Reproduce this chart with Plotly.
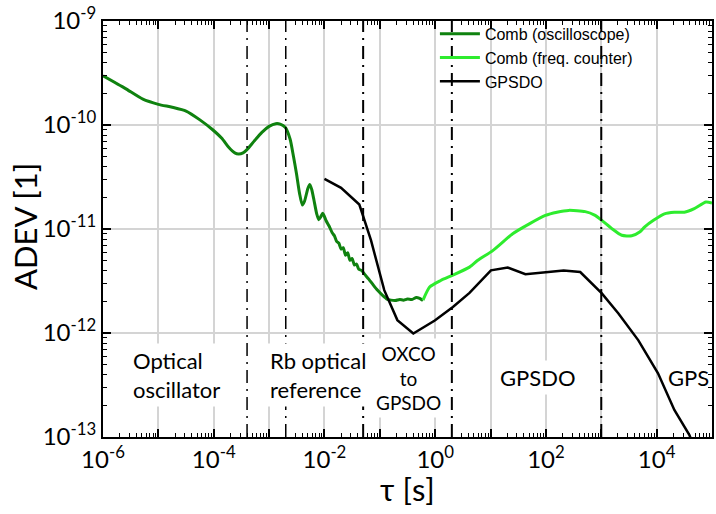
import plotly.graph_objects as go

# ---- data (tau in seconds, ADEV) ----
osc_tau = [1e-6, 10**-5.6, 10**-5.28, 10**-5.0, 10**-4.75, 10**-4.5, 10**-4.25, 10**-4.03,
           10**-3.85, 10**-3.73, 10**-3.62, 10**-3.55, 10**-3.47, 10**-3.40, 10**-3.27,
           10**-3.13, 10**-3.0, 10**-2.88, 10**-2.80, 10**-2.71, 10**-2.62, 10**-2.56,
           10**-2.505, 10**-2.45, 10**-2.40, 10**-2.36, 10**-2.30, 10**-2.265, 10**-2.23,
           10**-2.19, 10**-2.14, 10**-2.104, 10**-2.07, 10**-2.03, 10**-1.97, 10**-1.91,
           10**-1.86, 10**-1.82, 10**-1.78, 10**-1.74, 10**-1.70, 10**-1.66, 10**-1.62,
           10**-1.58, 10**-1.54, 10**-1.50, 10**-1.46, 10**-1.42, 10**-1.38, 10**-1.33,
           10**-1.28, 10**-1.20, 10**-1.12, 10**-1.04, 10**-0.95, 10**-0.87, 10**-0.80,
           10**-0.72, 10**-0.64, 10**-0.575, 10**-0.50, 10**-0.42, 10**-0.34, 10**-0.28,
           10**-0.22]
osc_adev = [2.97e-10, 2.25e-10, 1.77e-10, 1.58e-10, 1.48e-10, 1.36e-10, 1.12e-10, 9.1e-11,
            7.4e-11, 6.1e-11, 5.4e-11, 5.27e-11, 5.4e-11, 5.8e-11, 7.0e-11,
            8.5e-11, 9.7e-11, 1.03e-10, 1.02e-10, 9.5e-11, 7.3e-11, 5.0e-11,
            3.4e-11, 2.2e-11, 1.7e-11, 1.85e-11, 2.45e-11, 2.68e-11, 2.4e-11,
            1.9e-11, 1.4e-11, 1.23e-11, 1.3e-11, 1.42e-11, 1.2e-11, 1.05e-11,
            9.2e-12, 8.6e-12, 7.6e-12, 7.3e-12, 6.4e-12, 6.6e-12, 5.6e-12,
            5.9e-12, 5.0e-12, 5.2e-12, 4.5e-12, 4.6e-12, 4.1e-12, 4.0e-12,
            3.7e-12, 3.3e-12, 2.9e-12, 2.57e-12, 2.3e-12, 2.12e-12, 2.07e-12,
            2.05e-12, 2.1e-12, 2.07e-12, 2.12e-12, 2.1e-12, 2.2e-12, 2.15e-12,
            2.05e-12]

cnt_tau = [10**-0.22, 10**-0.10, 10**0.10, 10**0.32, 10**0.62, 10**0.77, 10**1.04, 10**1.40,
           10**1.70, 10**1.99, 10**2.20, 10**2.41, 10**2.71, 10**2.88, 10**3.01, 10**3.20,
           10**3.37, 10**3.55, 10**3.70, 10**3.785, 10**3.95, 10**4.14, 10**4.32, 10**4.50,
           10**4.68, 10**4.89, 10**5.0]
cnt_adev = [2.07e-12, 2.77e-12, 3.2e-12, 3.6e-12, 4.3e-12, 5.0e-12, 6.2e-12, 9.0e-12,
            1.12e-11, 1.35e-11, 1.45e-11, 1.51e-11, 1.47e-11, 1.36e-11, 1.21e-11, 1.0e-11,
            8.7e-12, 8.6e-12, 9.4e-12, 1.05e-11, 1.22e-11, 1.40e-11, 1.45e-11, 1.45e-11,
            1.57e-11, 1.82e-11, 1.78e-11]

gps_tau = [1e-2, 10**-1.70, 10**-1.37, 10**-1.16, 10**-0.92, 10**-0.683, 10**-0.395,
           10**-0.007, 10**0.32, 10**0.62, 10**1.007, 10**1.31, 10**1.63, 10**2.32,
           10**2.62, 10**3.01, 10**3.31, 10**3.67, 10**4.025, 10**4.32, 10**4.59, 10**4.64]
gps_adev = [3.03e-11, 2.49e-11, 1.72e-11, 7.8e-12, 2.58e-12, 1.33e-12, 9.9e-13,
            1.32e-12, 1.78e-12, 2.43e-12, 4.0e-12, 4.26e-12, 3.67e-12, 4.0e-12,
            3.86e-12, 2.4e-12, 1.54e-12, 8.5e-13, 4.1e-13, 1.82e-13, 1.05e-13, 9.0e-14]

region_bounds = [4e-4, 2e-3, 5e-2, 2, 1000]

# region labels: (log10 tau, log10 ADEV, text)
region_label_logx = [-5.53, -3.05, -0.48, 1.85, 4.57]
region_label_logy = [-12.4, -12.4, -12.43, -12.43, -12.43]
region_label_text = ["Optical<br>oscillator", "Rb optical<br>reference", "OXCO<br>to<br>GPSDO",
                     "GPSDO", "GPS"]
region_label_align = ["left", "left", "center", "center", "center"]
region_label_size = [22, 22, 19, 22, 22]
region_label_bg = ["white", "white", "white", "white", "rgba(0,0,0,0)"]

x_major = [10.0**k for k in range(-6, 6)]
x_major_text = ["10<sup>%d</sup>" % k if k % 2 == 0 else "" for k in range(-6, 6)]
y_major = [10.0**k for k in range(-13, -8)]
y_major_text = ["10<sup>%d</sup>" % k for k in range(-13, -8)]

x_minor = [m * 10.0**k for k in range(-6, 5) for m in range(2, 10)]
y_minor = [m * 10.0**k for k in range(-13, -9) for m in range(2, 10)]

FONT = "Lato"

fig = go.Figure()
fig.add_trace(go.Scatter(x=osc_tau, y=osc_adev, mode="lines", name="Comb (oscilloscope)",
                         line=dict(color="#0f820f", width=3, shape="spline", smoothing=0.6)))
fig.add_trace(go.Scatter(x=cnt_tau, y=cnt_adev, mode="lines", name="Comb (freq. counter)",
                         line=dict(color="#2eec2e", width=3, shape="spline", smoothing=0.6)))
fig.add_trace(go.Scatter(x=gps_tau, y=gps_adev, mode="lines", name="GPSDO",
                         line=dict(color="black", width=2.5)))

for i, b in enumerate(region_bounds):
    fig.add_shape(type="line", xref="x", yref="paper", x0=b, x1=b, y0=0, y1=1,
                  line=dict(color="black", width=1.5 if i < 2 else 2,
                            dash="13px,6px,2px,6px"), layer="above")

axis_common = dict(type="log", showline=True, linecolor="black", linewidth=2, mirror="ticks",
                   ticks="inside", ticklen=8, tickwidth=1.5, tickcolor="black",
                   showgrid=True, gridcolor="#d4d4d4", gridwidth=1.5, zeroline=False,
                   tickfont=dict(family=FONT, size=24, color="black"), tickmode="array")

fig.update_xaxes(**axis_common, range=[-6, 5], tickvals=x_major, ticktext=x_major_text,
                 minor=dict(ticks="inside", ticklen=4, tickwidth=1, tickcolor="black",
                            tickvals=x_minor, showgrid=False))
fig.update_yaxes(**axis_common, range=[-13, -9], tickvals=y_major, ticktext=y_major_text,
                 minor=dict(ticks="inside", ticklen=4, tickwidth=1, tickcolor="black",
                            tickvals=y_minor, showgrid=False))

for lx, ly, t, al, sz, bg in zip(region_label_logx, region_label_logy, region_label_text,
                                 region_label_align, region_label_size, region_label_bg):
    fig.add_annotation(x=lx, y=ly, xref="x", yref="y", text=t, showarrow=False,
                       xanchor=al, yanchor="middle", align=al,
                       font=dict(family=FONT, size=sz, color="black"),
                       bgcolor=bg, borderpad=3)

fig.add_annotation(text="ADEV [1]", textangle=-90, xref="paper", yref="paper",
                   x=-0.128, y=0.505, showarrow=False, xanchor="center", yanchor="middle",
                   font=dict(family=FONT, size=31, color="black"))
fig.add_annotation(text="τ [s]", xref="paper", yref="paper", x=0.5, y=-0.125,
                   showarrow=False, xanchor="center", yanchor="middle",
                   font=dict(family=FONT, size=31, color="black"))

fig.update_layout(
    width=716, height=514,
    margin=dict(l=103, r=2, t=20, b=77),
    paper_bgcolor="white", plot_bgcolor="white",
    showlegend=True,
    legend=dict(x=0.545, y=1.01, xanchor="left", yanchor="top", bgcolor="rgba(0,0,0,0)",
                borderwidth=0, font=dict(family="Liberation Sans", size=16, color="black"),
                itemwidth=40, tracegroupgap=0),
)

fig.write_html("out.html")
